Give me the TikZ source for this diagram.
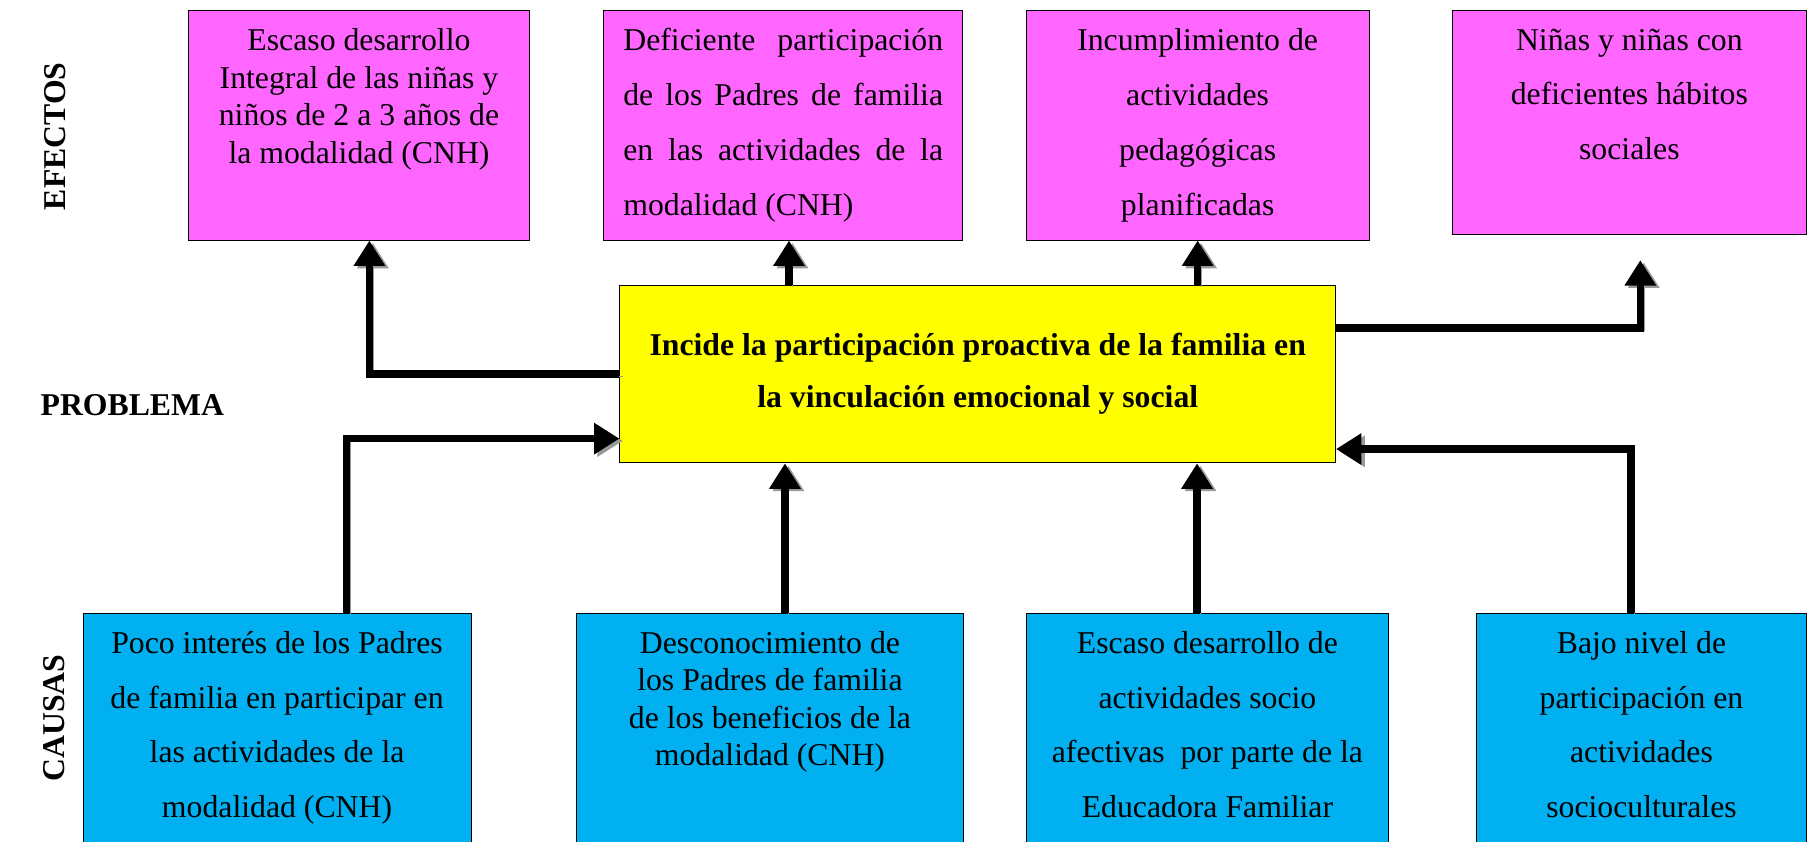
\documentclass[tikz,border=0pt]{standalone}
\usepackage{fontspec}
\setmainfont{Liberation Serif}
\usetikzlibrary{arrows.meta,positioning}
\definecolor{effback}{RGB}{255,102,255}
\definecolor{causeback}{RGB}{0,176,240}
\definecolor{probback}{RGB}{255,255,0}

\begin{document}
\begin{tikzpicture}[x=1pt, y=-1pt,
  box/.style={draw, line width=0.8pt, minimum height=199pt, inner sep=0pt},
  effbox/.style={box, fill=effback},
  causebox/.style={box, fill=causeback, minimum height=206pt},
  txt/.style={inner sep=0pt, align=center, font=\fontsize{27.5}{47.5}\selectfont},
  tighttxt/.style={txt, font=\fontsize{27.5}{32.5}\selectfont},
  tag/.style={inner sep=0pt, font=\fontsize{27.5}{33}\selectfont\bfseries},
  arr/.style={line width=6.5pt, -{Triangle[length=22pt,width=26pt]},
    preaction={draw=black!40, transform canvas={xshift=3pt,yshift=-2pt}}}
]
  \useasboundingbox (0,0) rectangle (1568,729);

  % side labels
  \node[tag, rotate=90] (efectos) at (48,118) {EFECTOS};
  \node[tag, anchor=west] (problema) at (35,351) {PROBLEMA};
  \node[tag, rotate=90] (causas) at (47,622) {CAUSAS};

  % effects
  \node[effbox, minimum width=296pt] (eff1) at (311,108.5) {};
  \node[effbox, minimum width=311pt] (eff2) at (678.5,108.5) {};
  \node[effbox, minimum width=297pt] (eff3) at (1037.5,108.5) {};
  \node[effbox, minimum width=307pt, minimum height=194pt] (eff4) at (1411.5,106) {};
  \node[tighttxt, below=16pt of eff1.north] (eff1t) {Escaso desarrollo\\ Integral de las niñas y\\ niños de 2 a 3 años de\\ la modalidad (CNH)};
  \node[txt, align=justify, text width=277pt, below=16pt of eff2.north] (eff2t) {Deficiente participación\linebreak de los Padres de familia\linebreak en las actividades de la\linebreak modalidad (CNH)};
  \node[txt, below=16pt of eff3.north] (eff3t) {Incumplimiento de\\ actividades\\ pedagógicas\\ planificadas};
  \node[txt, below=16pt of eff4.north] (eff4t) {Niñas y niñas con\\ deficientes hábitos\\ sociales};

  % problem
  \node[box, fill=probback, minimum width=620pt, minimum height=154pt,
    font=\fontsize{27.5}{45}\selectfont\bfseries, align=center] (mid) at (847,324)
    {Incide la participación proactiva de la familia en\\ la vinculación emocional y social};

  % causes
  \node[causebox, minimum width=336pt] (cau1) at (240,634) {};
  \node[causebox, minimum width=336pt] (cau2) at (667,634) {};
  \node[causebox, minimum width=314pt] (cau3) at (1046,634) {};
  \node[causebox, minimum width=286pt] (cau4) at (1422,634) {};
  \node[txt, below=16pt of cau1.north] (cau1t) {Poco interés de los Padres\\ de familia en participar en\\ las actividades de la\\ modalidad (CNH)};
  \node[tighttxt, below=16pt of cau2.north] (cau2t) {Desconocimiento de\\ los Padres de familia\\ de los beneficios de la\\ modalidad (CNH)};
  \node[txt, below=16pt of cau3.north] (cau3t) {Escaso desarrollo de\\ actividades socio\\ afectivas~ por parte de la\\ Educadora Familiar};
  \node[txt, below=16pt of cau4.north] (cau4t) {Bajo nivel de\\ participación en\\ actividades\\ socioculturales};

  % arrows to effects
  \coordinate (tip4) at ([xshift=9.5pt,yshift=-22pt]eff4.south);
  \draw[arr] (mid.west) -| ([xshift=9pt]eff1.south);
  \draw[arr] ([xshift=5pt]eff2.south |- mid.north) -- ([xshift=5pt]eff2.south);
  \draw[arr] (eff3.south |- mid.north) -- (eff3.south);
  \draw[arr] ([yshift=40pt]mid.east) -| (tip4);

  % arrows from causes
  \draw[arr] ([xshift=60pt]cau1.north) |- ([yshift=-56pt]mid.west);
  \draw[arr] ([xshift=13pt]cau2.north) -- ([xshift=13pt]cau2.north |- mid.south);
  \draw[arr] ([xshift=-9pt]cau3.north) -- ([xshift=-9pt]cau3.north |- mid.south);
  \draw[arr] ([xshift=-9pt]cau4.north) |- ([yshift=-65pt]mid.east);
\end{tikzpicture}
\end{document}
